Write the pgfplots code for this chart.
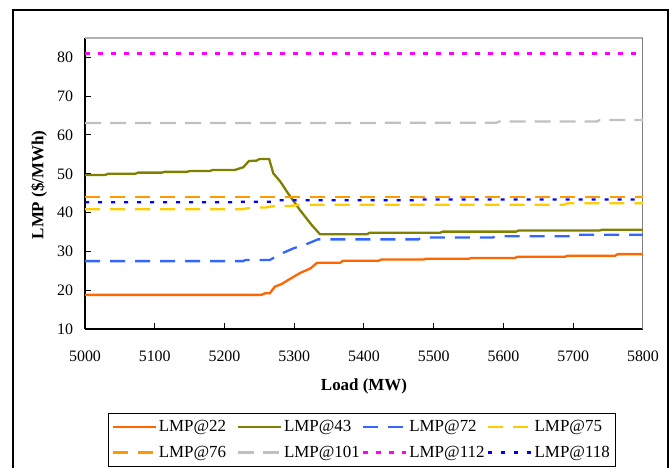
\documentclass[border=0pt]{standalone}
\usepackage{pgfplots}
\pgfplotsset{compat=1.18}
\usepackage{fontspec}
\setmainfont{Liberation Serif}
\definecolor{c22}{HTML}{FF6600}
\definecolor{c43}{HTML}{808000}
\definecolor{c72}{HTML}{3366FF}
\definecolor{c75}{HTML}{FFCC00}
\definecolor{c76}{HTML}{FF9900}
\definecolor{c101}{HTML}{C0C0C0}
\definecolor{c112}{HTML}{FF00FF}
\definecolor{c118}{HTML}{0000FF}
\definecolor{topgray}{HTML}{B0B0B0}
\definecolor{rightgray}{HTML}{808080}
\newcommand{\fs}{\fontsize{16}{19}\selectfont}
\newcommand{\fl}{\fontsize{17}{20}\selectfont}
\newcommand{\lt}[1]{\makebox[76bp][l]{#1}}
\begin{document}
\begin{tikzpicture}
\useasboundingbox (0,0) rectangle (671bp,468bp);
\draw[line width=1.3bp] (13bp,-10bp) -- (13bp,458bp) -- (668bp,458bp) -- (668bp,-10bp);
\begin{axis}[
  at={(85bp,139bp)}, anchor=south west,
  scale only axis, width=558bp, height=291bp,
  xmin=5000, xmax=5800, ymin=10, ymax=85,
  xtick={5000,5100,...,5800}, ytick={10,20,...,80},
  axis x line*=bottom, axis y line*=left,
  axis line style={line width=1.2bp, black},
  tick align=inside, major tick length=6bp,
  tick style={black, line width=1bp},
  /pgf/number format/assume math mode=true,
  /pgf/number format/1000 sep={},
  scaled x ticks=false,
  tick label style={font=\fs},
  xticklabel style={yshift=-18bp},
  yticklabel style={xshift=-8.5bp},
  xlabel={\textbf{Load (MW)}},
  ylabel={\textbf{LMP (\$/MWh)}},
  every axis x label/.style={at={(axis description cs:0.5,-0.198)}, anchor=center, font=\fl},
  every axis y label/.style={at={(axis description cs:-0.0824,0.495)}, anchor=center, rotate=90, font=\fl},
  legend columns=4,
  legend style={at={(axis description cs:0.0412,-0.2887)}, anchor=north west, draw=black, line width=1bp, font=\fl,
    row sep=9bp, inner ysep=5bp,
    /tikz/every even column/.append style={column sep=0bp}},
  legend image code/.code={\draw[#1] (0bp,0bp) -- (43bp,0bp);},
  every axis plot/.append style={line width=2.3bp},
]
\draw[topgray, line width=2bp] (rel axis cs:0,1) -- (rel axis cs:1,1);
\draw[rightgray, line width=1.5bp] (rel axis cs:1,1) -- (rel axis cs:1,0);

\addplot[c22, solid] coordinates {(5000,18.8) (5253,18.8) (5258,19.2) (5265,19.2) (5272,20.9) (5282,21.6) (5291,22.6) (5308,24.4) (5323,25.6) (5333,27.1) (5366,27.1) (5370,27.6) (5421,27.6) (5425,27.9) (5485,27.9) (5489,28.1) (5550,28.1) (5554,28.3) (5616,28.3) (5620,28.6) (5688,28.6) (5692,28.9) (5760,28.9) (5764,29.3) (5800,29.3)};
\addlegendentry{\lt{LMP@22}}
\addplot[c43, solid] coordinates {(5000,49.7) (5029,49.7) (5033,50.0) (5072,50.0) (5076,50.3) (5110,50.3) (5114,50.5) (5146,50.5) (5150,50.7) (5179,50.7) (5183,51.0) (5215,51.0) (5227,51.7) (5235,53.3) (5246,53.4) (5250,53.8) (5264,53.8) (5270,50.1) (5280,48.0) (5291,45.0) (5308,40.7) (5325,36.8) (5337,34.4) (5404,34.4) (5408,34.8) (5509,34.8) (5513,35.1) (5618,35.1) (5622,35.4) (5738,35.4) (5742,35.6) (5800,35.6)};
\addlegendentry{\lt{LMP@43}}
\addplot[c72, dash pattern=on 15bp off 10bp] coordinates {(5000,27.5) (5227,27.5) (5230,27.8) (5265,27.8) (5280,29.3) (5299,30.8) (5318,31.9) (5334,33.1) (5478,33.1) (5482,33.6) (5585,33.6) (5589,33.9) (5695,33.9) (5699,34.3) (5800,34.3)};
\addlegendentry{\lt{LMP@72}}
\addplot[c75, dash pattern=on 15bp off 10bp] coordinates {(5000,40.85) (5225,40.85) (5239,41.3) (5258,41.3) (5272,41.7) (5293,41.7) (5308,42.0) (5686,42.0) (5692,42.4) (5800,42.4)};
\addlegendentry{\lt{LMP@75}}
\addplot[c76, dash pattern=on 15bp off 10bp] coordinates {(5000,44.1) (5800,44.1)};
\addlegendentry{\lt{LMP@76}}
\addplot[c101, dash pattern=on 16bp off 9bp] coordinates {(5000,63.1) (5423,63.1) (5427,63.15) (5590,63.15) (5594,63.5) (5734,63.5) (5738,63.85) (5800,63.85)};
\addlegendentry{\lt{LMP@101}}
\addplot[c112, dash pattern=on 5bp off 8bp] coordinates {(5000,81) (5800,81)};
\addlegendentry{\lt{LMP@112}}
\addplot[c118, dash pattern=on 4bp off 9bp] coordinates {(5000,42.65) (5212,42.65) (5218,42.8) (5268,42.8) (5275,43.2) (5470,43.2) (5478,43.4) (5800,43.4)};
\addlegendentry{\lt{LMP@118}}
\end{axis}
\end{tikzpicture}
\end{document}
